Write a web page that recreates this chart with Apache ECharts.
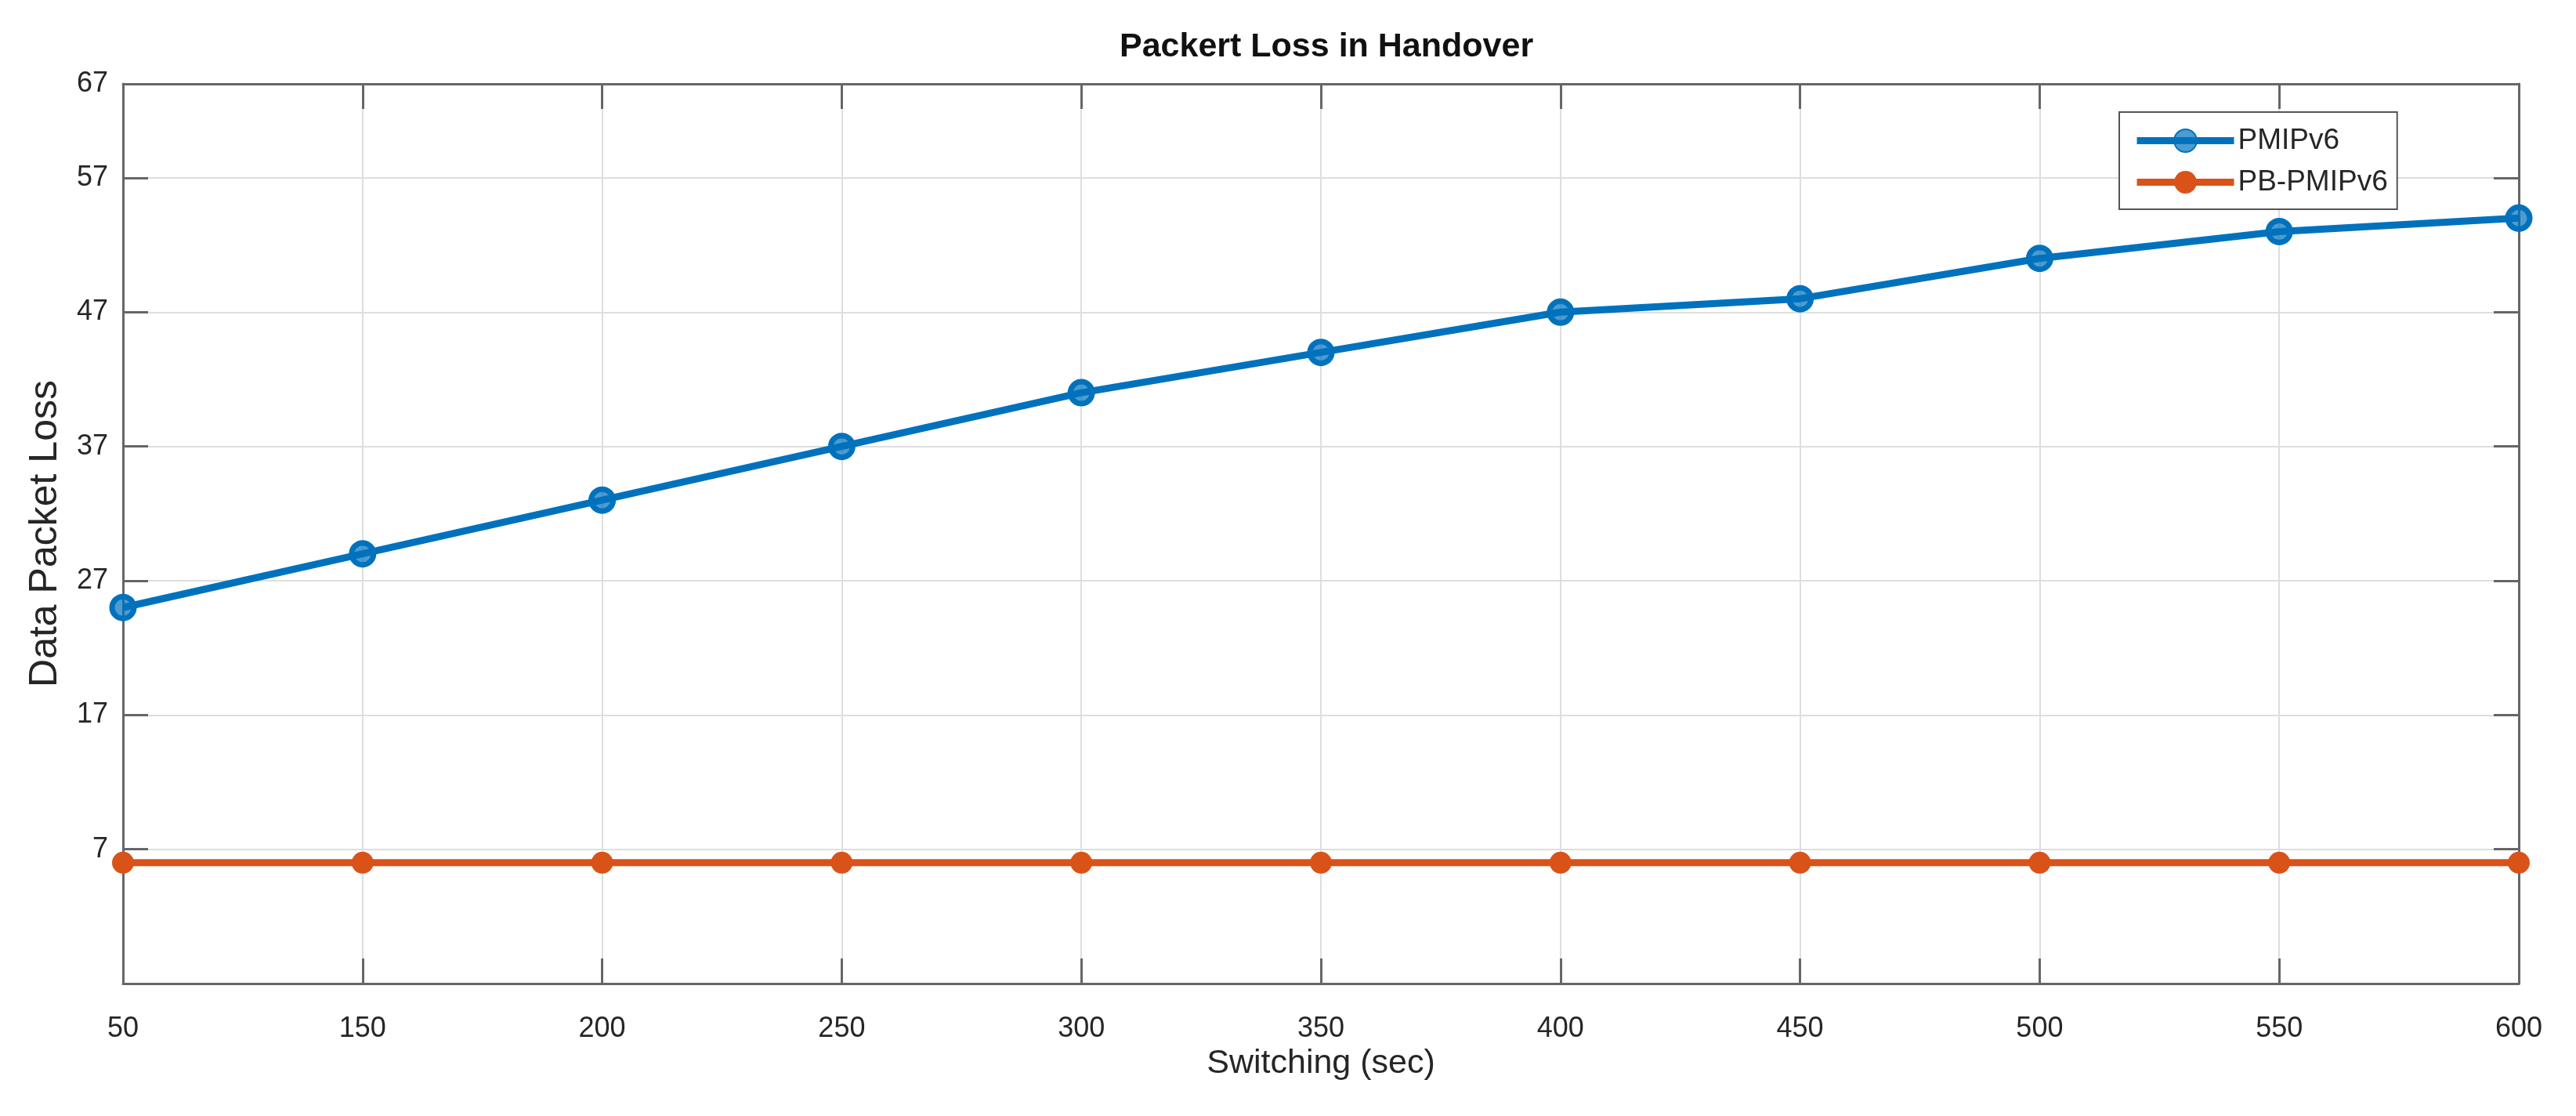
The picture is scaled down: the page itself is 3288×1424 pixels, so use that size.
<!DOCTYPE html>
<html>
<head>
<meta charset="utf-8">
<script src="https://cdn.jsdelivr.net/npm/echarts@6/dist/echarts.min.js"></script>
<style>
html,body{margin:0;padding:0;background:#fff;}
#main{width:3288px;height:1424px;}
</style>
</head>
<body>
<div id="main"></div>
<script>
const chartTitle = 'Packert Loss in Handover';
const xName = 'Switching (sec)';
const yName = 'Data Packet Loss';
const categories = ['50','150','200','250','300','350','400','450','500','550','600'];
const seriesNames = ['PMIPv6','PB-PMIPv6'];
const pmipv6 = [25, 29, 33, 37, 41, 44, 47, 48, 51, 53, 54];
const pbPmipv6 = [6, 6, 6, 6, 6, 6, 6, 6, 6, 6, 6];
const yMin = -3;
const yMax = 64;
const yTickValues = [7, 17, 27, 37, 47, 57, 64];
const yTickLabels = ['7', '17', '27', '37', '47', '57', '67'];

const FONT = '"Liberation Sans", Arial, Helvetica, sans-serif';
const TXT = '#262626';
const AXC = '#666666';
const GRID = '#dedede';

const chart = echarts.init(document.getElementById('main'), null, {renderer: 'canvas'});

const tickStyle = {show: true, inside: true, length: 32, lineStyle: {color: AXC, width: 3}};

const option = {
  backgroundColor: '#ffffff',
  animation: false,
  title: {
    text: chartTitle,
    left: 1424,
    top: 34,
    textStyle: {fontFamily: FONT, fontSize: 43, fontWeight: 'bold', color: '#111'}
  },
  legend: {
    orient: 'vertical',
    left: 2705,
    top: 143,
    padding: [18, 12, 16, 18],
    itemGap: 16,
    itemWidth: 124,
    itemHeight: 36,
    borderColor: '#555',
    borderWidth: 2,
    backgroundColor: '#fff',
    lineStyle: {width: 9},
    textStyle: {fontFamily: FONT, fontSize: 37, color: TXT},
    data: seriesNames
  },
  grid: {left: 157, right: 73, top: 107, bottom: 169, containLabel: false},
  xAxis: [{
    type: 'category',
    data: categories,
    boundaryGap: false,
    position: 'bottom',
    name: xName,
    nameLocation: 'middle',
    nameGap: 80,
    nameTextStyle: {fontFamily: FONT, fontSize: 43, color: TXT},
    axisLine: {show: true, onZero: false, lineStyle: {color: AXC, width: 3}},
    axisTick: Object.assign({interval: 0}, tickStyle),
    axisLabel: {interval: 0, margin: 40, fontFamily: FONT, fontSize: 36, color: TXT},
    splitLine: {show: true, interval: 0, lineStyle: {color: GRID, width: 2}}
  }, {
    type: 'category',
    data: categories,
    boundaryGap: false,
    position: 'top',
    axisLine: {show: true, onZero: false, lineStyle: {color: AXC, width: 3}},
    axisTick: Object.assign({interval: 0}, tickStyle),
    axisLabel: {show: false},
    splitLine: {show: false}
  }],
  yAxis: [{
    type: 'value',
    min: yMin,
    max: yMax,
    position: 'left',
    name: yName,
    nameLocation: 'middle',
    nameGap: 74,
    nameTextStyle: {fontFamily: FONT, fontSize: 50, color: TXT},
    axisLine: {show: true, onZero: false, lineStyle: {color: AXC, width: 3}},
    axisTick: Object.assign({customValues: yTickValues}, tickStyle),
    axisLabel: {
      customValues: yTickValues,
      margin: 19,
      fontFamily: FONT, fontSize: 36, color: TXT,
      formatter: function (v) {
        const i = yTickValues.indexOf(v);
        return i >= 0 ? yTickLabels[i] : '';
      }
    },
    splitLine: {show: true, lineStyle: {color: GRID, width: 2}}
  }, {
    type: 'value',
    min: yMin,
    max: yMax,
    position: 'right',
    axisLine: {show: true, onZero: false, lineStyle: {color: AXC, width: 3}},
    axisTick: Object.assign({customValues: yTickValues}, tickStyle),
    axisLabel: {show: false},
    splitLine: {show: false}
  }],
  series: [{
    name: seriesNames[0],
    type: 'line',
    xAxisIndex: 0,
    yAxisIndex: 0,
    data: pmipv6,
    symbol: 'circle',
    symbolSize: 28,
    lineStyle: {color: '#0072BD', width: 9},
    itemStyle: {color: 'rgba(0,114,189,0.7)', borderColor: '#0072BD', borderWidth: 7},
    z: 3
  }, {
    name: seriesNames[1],
    type: 'line',
    xAxisIndex: 0,
    yAxisIndex: 0,
    data: pbPmipv6,
    symbol: 'circle',
    symbolSize: 28,
    lineStyle: {color: '#D95319', width: 9},
    itemStyle: {color: '#D95319', borderColor: '#D95319', borderWidth: 0},
    z: 2
  }]
};
chart.setOption(option);
</script>
</body>
</html>
